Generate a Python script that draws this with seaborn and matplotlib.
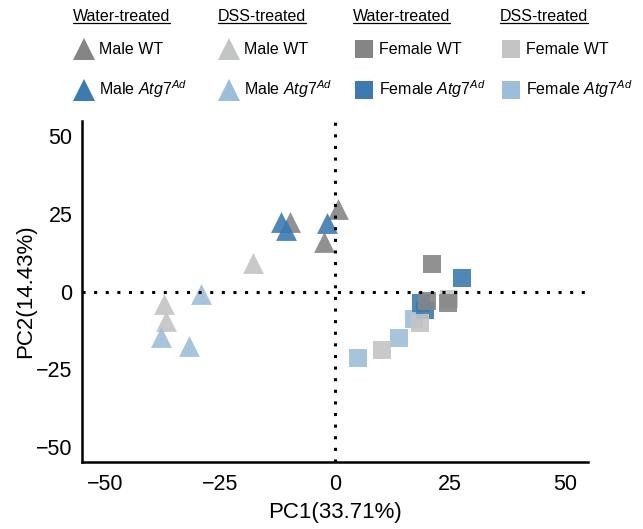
import matplotlib
matplotlib.use("Agg")
import matplotlib.pyplot as plt
from matplotlib.lines import Line2D
import seaborn as sns
import pandas as pd

# --- DATA ---
male_wt_water_x = [0.7, -9.8, -2.4]
male_wt_water_y = [26.5, 22.5, 15.9]
male_atg7_water_x = [-11.7, -10.7, -1.8]
male_atg7_water_y = [22.3, 19.7, 22.1]
male_wt_dss_x = [-17.8, -37.1, -36.7]
male_wt_dss_y = [9.2, -4.0, -9.4]
male_atg7_dss_x = [-29.1, -37.8, -31.7]
male_atg7_dss_y = [-0.8, -14.5, -17.4]

female_wt_water_x = [21.1, 24.5, 20.1]
female_wt_water_y = [9.0, -3.5, -3.0]
female_atg7_water_x = [27.6, 18.7, 19.6]
female_atg7_water_y = [4.5, -3.5, -5.9]
female_wt_dss_x = [24.7, 18.5, 10.3]
female_wt_dss_y = [-2.3, -10.0, -18.7]
female_atg7_dss_x = [17.2, 13.9, 5.0]
female_atg7_dss_y = [-8.8, -14.8, -21.3]

ticks = [-50, -25, 0, 25, 50]
headers = ["Water-treated", "DSS-treated", "Water-treated", "DSS-treated"]

# --- STYLE ---
C_WT_WATER = "#858586"
C_ATG_WATER = "#3b7bb1"
C_WT_DSS = "#c3c4c4"
C_ATG_DSS = "#9dbed8"
ATG = r"$\mathit{Atg7}^{\mathit{Ad}}$"

sns.set_style("white")
plt.rcParams["font.family"] = ["Liberation Sans", "DejaVu Sans"]
plt.rcParams["mathtext.fontset"] = "custom"
plt.rcParams["mathtext.rm"] = "Liberation Sans"
plt.rcParams["mathtext.it"] = "Liberation Sans:italic"
plt.rcParams["text.color"] = "black"
plt.rcParams["axes.labelcolor"] = "black"

# (label, x, y, color, marker) in drawing order
groups = [
    ("Female " + ATG, female_atg7_dss_x, female_atg7_dss_y, C_ATG_DSS, "s"),
    ("Female " + ATG, female_atg7_water_x, female_atg7_water_y, C_ATG_WATER, "s"),
    ("Female WT", female_wt_dss_x, female_wt_dss_y, C_WT_DSS, "s"),
    ("Female WT", female_wt_water_x, female_wt_water_y, C_WT_WATER, "s"),
    ("Male WT", male_wt_water_x, male_wt_water_y, C_WT_WATER, "^"),
    ("Male WT", male_wt_dss_x, male_wt_dss_y, C_WT_DSS, "^"),
    ("Male " + ATG, male_atg7_dss_x, male_atg7_dss_y, C_ATG_DSS, "^"),
    ("Male " + ATG, male_atg7_water_x, male_atg7_water_y, C_ATG_WATER, "^"),
]

fig = plt.figure(figsize=(6.43, 5.29), dpi=100)
ax = fig.add_axes([0.1275, 0.127, 0.787, 0.644])

for label, xs, ys, col, mk in groups:
    df = pd.DataFrame({"PC1": xs, "PC2": ys})
    size = 225 if mk == "^" else 160
    sns.scatterplot(data=df, x="PC1", y="PC2", color=col, marker=mk, s=size,
                    linewidth=0, alpha=0.9, ax=ax, legend=False, zorder=3)

dots = (0, (1, 2.8))
ax.axhline(0, color="black", lw=2.2, ls=dots, zorder=5)
ax.axvline(0, color="black", lw=2.2, ls=dots, zorder=5)

ax.set_xlim(-55, 55)
ax.set_ylim(-54.8, 54.9)
ax.set_xticks(ticks)
ax.set_yticks(ticks)
ax.set_xticklabels(["\u221250", "\u221225", "0", "25", "50"])
ax.set_yticklabels(["\u221250", "\u221225", "0", "25", "50"])
ax.tick_params(axis="both", length=3, width=1, color="#333333",
               labelsize=15.5, pad=4, labelcolor="black")
ax.tick_params(axis="x", pad=6)
ax.set_xlabel("PC1(33.71%)", fontsize=16, labelpad=5)
ax.set_ylabel("PC2(14.43%)", fontsize=16, labelpad=0)
sns.despine(ax=ax)
for sp in ["left", "bottom"]:
    ax.spines[sp].set_linewidth(1.8)
    ax.spines[sp].set_color("black")

# --- LEGEND: four columns, each with an underlined header ---
W, H = 643, 529
col_x = [73, 218, 353, 500]
col_sets = [
    [("Male WT", C_WT_WATER, "^"), ("Male " + ATG, C_ATG_WATER, "^")],
    [("Male WT", C_WT_DSS, "^"), ("Male " + ATG, C_ATG_DSS, "^")],
    [("Female WT", C_WT_WATER, "s"), ("Female " + ATG, C_ATG_WATER, "s")],
    [("Female WT", C_WT_DSS, "s"), ("Female " + ATG, C_ATG_DSS, "s")],
]

head_texts = []
for hx, txt in zip(col_x, headers):
    t = fig.text(hx / W, 1 - 21 / H, txt, fontsize=11.5, ha="left", va="baseline")
    head_texts.append(t)

for hx, entries in zip(col_x, col_sets):
    handles = [Line2D([], [], ls="", marker=mk, color=col,
                      markersize=16 if mk == "^" else 12.7, markeredgewidth=0)
               for _, col, mk in entries]
    labels = [lab for lab, _, _ in entries]
    fig.legend(handles, labels, loc="upper left",
               bbox_to_anchor=((hx - 10) / W, 1 - 31 / H), frameon=False,
               fontsize=11.5, handlelength=1.2, handletextpad=0.35,
               labelspacing=1.35, borderpad=0.2)

fig.canvas.draw()
r = fig.canvas.get_renderer()
for t in head_texts:
    bb = t.get_window_extent(renderer=r)
    x0, x1 = bb.x0 / (W), bb.x1 / (W)
    yline = 1 - 23 / H
    fig.add_artist(Line2D([x0, x1], [yline, yline], color="black", lw=0.9,
                          transform=fig.transFigure))

fig.savefig("out.png", dpi=100)
